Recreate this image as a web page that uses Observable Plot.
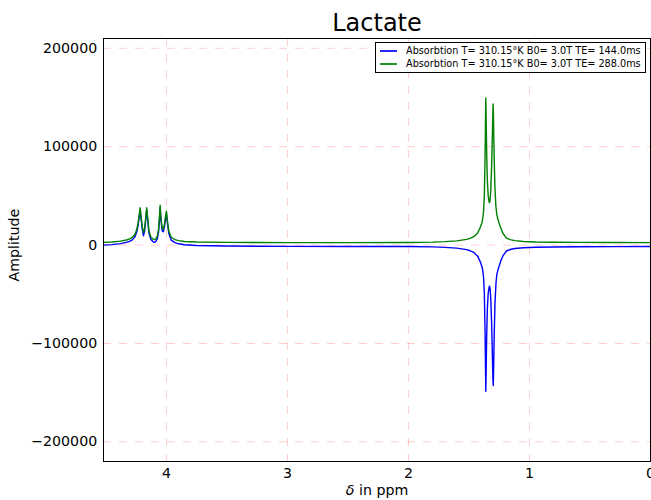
<!DOCTYPE html>
<html><head><meta charset="utf-8">
<script src="https://cdn.jsdelivr.net/npm/d3@7"></script>
<script src="https://cdn.jsdelivr.net/npm/@observablehq/plot@0.6"></script>
<style>
body{margin:0;background:#fff;font-family:"DejaVu Sans",sans-serif;color:#000;}
#wrap{position:relative;width:651px;height:500px;overflow:hidden;}
#title{position:absolute;left:103px;width:548px;top:11px;text-align:center;font-size:24px;line-height:24px;}
#xlabel{position:absolute;left:103px;width:548px;top:483px;text-align:center;font-size:14.2px;line-height:14.2px;}
#ylabel{position:absolute;left:-36px;top:238px;width:100px;text-align:center;font-size:14.2px;line-height:14.2px;transform:rotate(-90deg);}
#legend{position:absolute;left:375px;top:42px;width:271px;height:31px;box-sizing:border-box;border:1px solid #000;background:#fff;font-size:9.7px;}
.lrow{position:absolute;left:0;width:100%;height:12px;}
.lline{position:absolute;left:4px;width:17px;top:5px;height:2px;opacity:0.85;}
.ltext{position:absolute;left:30px;top:0;line-height:12px;white-space:nowrap;}
</style>
</head><body>
<div id="wrap">
  <div id="plot"></div>
  <div id="title"></div>
  <div id="xlabel"><i>δ</i> in ppm</div>
  <div id="ylabel"></div>
  <div id="legend"></div>
</div>
<script>
const titleText = "Lactate";
const yLabelText = "Amplitude";
const seriesNames = ["Absorbtion T= 310.15°K B0= 3.0T TE= 144.0ms", "Absorbtion T= 310.15°K B0= 3.0T TE= 288.0ms"];
const seriesColors = ["#0000ff", "#008000"];
const xTicks = [4, 3, 2, 1, 0];
const yTicks = [-200000, -100000, 0, 100000, 200000];
const xDomain = [4.52, 0];
const yDomain = [-220000, 210000];

// TE = 144 ms (blue)
const ppmBlue = [4.52,4.45,4.38,4.33,4.30,4.28,4.26,4.245,4.235,4.225,4.217,4.21,4.20,4.19,4.18,4.172,4.163,4.155,4.145,4.13,4.11,4.10,4.09,4.075,4.065,4.058,4.052,4.045,4.035,4.026,4.015,4.007,4.0,3.993,3.98,3.96,3.93,3.90,3.85,3.75,3.5,3.0,2.5,2.0,1.8,1.7,1.6,1.52,1.49,1.46,1.43,1.41,1.395,1.388,1.38,1.373,1.367,1.363,1.361,1.358,1.354,1.348,1.341,1.334,1.330,1.326,1.320,1.313,1.306,1.302,1.299,1.296,1.291,1.285,1.277,1.27,1.26,1.25,1.235,1.22,1.19,1.16,1.12,1.05,0.95,0.8,0.6,0.3,0.0];
const ampBlue = [0,500,1500,2800,4000,5500,8500,13500,19500,28500,35500,27500,16500,9500,14500,24500,35500,25500,12500,6000,3300,2800,3300,6500,13500,25500,38000,25500,14500,13500,19500,27500,32000,23500,11500,5000,2500,1300,300,-500,-1000,-1300,-1400,-1500,-1800,-2300,-3100,-4600,-5800,-7500,-11000,-16000,-21000,-24500,-32000,-49000,-89000,-129000,-148600,-129000,-94000,-64000,-49000,-43000,-41700,-44000,-54000,-79000,-114000,-137000,-142800,-124000,-89000,-59000,-39000,-30000,-25000,-21000,-15500,-11000,-6000,-4500,-3500,-2700,-2200,-1900,-1700,-1600,-1500];

// TE = 288 ms (green)
const ppmGreen = [4.52,4.45,4.38,4.33,4.30,4.28,4.26,4.245,4.235,4.225,4.217,4.21,4.20,4.19,4.18,4.172,4.163,4.155,4.145,4.13,4.11,4.10,4.09,4.075,4.065,4.058,4.052,4.045,4.035,4.026,4.015,4.007,4.0,3.993,3.98,3.96,3.93,3.90,3.85,3.75,3.5,3.0,2.5,2.0,1.8,1.7,1.6,1.52,1.49,1.46,1.43,1.41,1.395,1.388,1.38,1.373,1.367,1.363,1.361,1.358,1.354,1.348,1.341,1.334,1.330,1.326,1.320,1.313,1.306,1.302,1.300,1.297,1.292,1.286,1.278,1.27,1.26,1.25,1.235,1.22,1.19,1.16,1.12,1.05,0.95,0.8,0.6,0.3,0.0];
const ampGreen = [2800,3200,4000,5200,6500,8000,11000,16000,22000,31000,38000,30000,19000,13000,17000,27000,38000,28000,15000,8500,6000,5500,6000,9000,16000,28000,40500,28000,17000,16000,22000,30000,34500,26000,14000,8000,5500,4500,3700,3100,2700,2500,2500,2700,3000,3500,4300,5800,6800,8500,12000,17000,22000,25500,33000,50000,90000,130000,149500,130000,95000,65000,50000,44000,43000,45000,55000,80000,115000,138000,143500,125000,90000,60000,40000,31000,26000,22000,16500,12000,7000,5500,4500,3700,3200,2900,2700,2600,2500];

const blue = ppmBlue.map((p, i) => ({ppm: p, amp: ampBlue[i]}));
const green = ppmGreen.map((p, i) => ({ppm: p, amp: ampGreen[i]}));
const fmt = d => d < 0 ? "\u2212" + Math.abs(d) : String(d);

const chart = Plot.plot({
  width: 651, height: 500,
  marginTop: 38, marginBottom: 39, marginLeft: 103, marginRight: 1,
  style: {fontFamily: "DejaVu Sans", fontSize: "14.2px", color: "black", background: "white"},
  x: {domain: xDomain, label: null},
  y: {domain: yDomain, label: null},
  marks: [
    Plot.gridX(xTicks, {stroke: "#ff0000", strokeOpacity: 0.2, strokeWidth: 1, strokeDasharray: "8,8"}),
    Plot.gridY(yTicks, {stroke: "#ff0000", strokeOpacity: 0.2, strokeWidth: 1, strokeDasharray: "8,8"}),
    Plot.line(blue, {x: "ppm", y: "amp", stroke: seriesColors[0], strokeWidth: 1.4}),
    Plot.line(green, {x: "ppm", y: "amp", stroke: seriesColors[1], strokeWidth: 1.4}),
    Plot.frame({stroke: "black", strokeWidth: 1}),
    Plot.axisX(xTicks, {tickSize: 0, tickPadding: 6.5, tickFormat: d => String(d), label: null}),
    Plot.axisY(yTicks, {tickSize: 0, tickPadding: 6.3, tickFormat: fmt, label: null})
  ]
});
document.getElementById("plot").appendChild(chart);
document.getElementById("title").textContent = titleText;
document.getElementById("ylabel").textContent = yLabelText;
const leg = document.getElementById("legend");
seriesNames.forEach((name, i) => {
  const row = document.createElement("div");
  row.className = "lrow";
  row.style.top = (i === 0 ? 2 : 15) + "px";
  row.innerHTML = `<div class="lline" style="background:${seriesColors[i]}"></div><div class="ltext">${name}</div>`;
  leg.appendChild(row);
});
</script>
</body></html>
